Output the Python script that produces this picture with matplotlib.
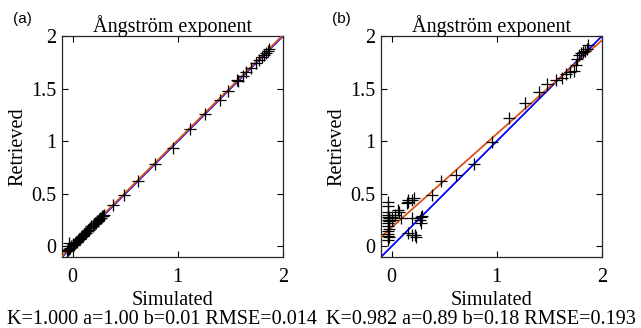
import numpy as np
import matplotlib.pyplot as plt

plt.rcParams['font.family'] = 'Liberation Serif'

# simulated vs retrieved Angstrom exponent, (a) noise-free, (b) with noise
sim_a = [-0.05, -0.04, -0.03, -0.03, -0.02, -0.01, 0.00, 0.01, 0.02, 0.03,
         0.04, 0.05, 0.06, 0.07, 0.08, 0.09, 0.10, 0.11, 0.12, 0.13,
         0.14, 0.15, 0.16, 0.17, 0.18, 0.19, 0.20, 0.21, 0.22, 0.23,
         0.24, 0.25, 0.26, 0.27, 0.28, 0.29, 0.30,
         0.38, 0.49, 0.62, 0.78, 0.95, 1.12, 1.26, 1.40, 1.48, 1.56,
         1.57, 1.62, 1.65, 1.70, 1.74, 1.77, 1.80, 1.82, 1.84, 1.86, 1.87]
ret_a = [-0.04, -0.03, 0.03, -0.02, -0.01, 0.00, 0.02, 0.01, 0.03, 0.04,
         0.04, 0.06, 0.07, 0.07, 0.09, 0.10, 0.10, 0.12, 0.13, 0.13,
         0.15, 0.16, 0.16, 0.18, 0.19, 0.19, 0.21, 0.22, 0.22, 0.24,
         0.24, 0.26, 0.27, 0.27, 0.29, 0.29, 0.30,
         0.39, 0.49, 0.62, 0.78, 0.94, 1.12, 1.26, 1.39, 1.48, 1.58,
         1.57, 1.62, 1.66, 1.70, 1.74, 1.77, 1.80, 1.82, 1.84, 1.86, 1.88]

sim_b = [-0.03, -0.03, -0.03, -0.03, -0.03, -0.03, -0.03, -0.03, -0.03, -0.03,
         -0.03, -0.03, -0.02, -0.02, -0.02, -0.02, 0.00, 0.00, 0.03, 0.06,
         0.07, 0.09, 0.15, 0.16, 0.16, 0.19, 0.19, 0.21, 0.19, 0.23, 0.16,
         0.22, 0.27, 0.28, 0.28, 0.29,
         0.38, 0.47, 0.61, 0.78, 0.95, 1.12, 1.27, 1.40, 1.48, 1.56,
         1.62, 1.66, 1.70, 1.73, 1.75, 1.76, 1.78, 1.80, 1.82, 1.84, 1.86, 1.87]
ret_b = [0.06, 0.10, 0.12, 0.15, 0.19, 0.22, 0.25, 0.28, 0.30, 0.33,
         0.38, 0.42, 0.09, 0.17, 0.24, 0.27, 0.25, 0.28, 0.30, 0.35,
         0.33, 0.27, 0.41, 0.44, 0.42, 0.44, 0.27, 0.46, 0.11, 0.09, 0.13,
         0.11, 0.25, 0.28, 0.22, 0.29,
         0.49, 0.62, 0.68, 0.78, 0.99, 1.22, 1.36, 1.47, 1.54, 1.58,
         1.60, 1.64, 1.66, 1.67, 1.72, 1.78, 1.82, 1.84, 1.85, 1.86, 1.88, 1.91]

# fit stats: correlation K, slope a, intercept b, RMSE
stats = [(1.000, 1.00, 0.01, 0.014), (0.982, 0.89, 0.18, 0.193)]
panels = ['(a)', '(b)']

fig = plt.figure(figsize=(6.41, 3.28), dpi=100)
lefts = [62 / 641, 381 / 641]
data = [(sim_a, ret_a), (sim_b, ret_b)]

for i in range(2):
    ax = fig.add_axes([lefts[i], 71 / 328, 221 / 641, 221 / 328])
    sim, ret = data[i]
    K, a, b, rmse = stats[i]
    lim = np.array([-0.1, 2.0])
    ax.plot(lim, lim, color='#0000FF', lw=1.3, zorder=2)
    ax.plot(lim, a * lim + b, color='#D95319', lw=1.3, zorder=3)
    ax.plot(sim, ret, '+', color='k', ms=9, mew=0.9, zorder=4)
    ax.set_xlim(-0.1, 2)
    ax.set_ylim(-0.1, 2)
    ax.set_xticks([0, 1, 2])
    ax.set_xticklabels(['0', '1', '2'])
    ax.set_yticks([0, 0.5, 1, 1.5, 2])
    ax.set_yticklabels(['0', '0.5', '1', '1.5', '2'])
    ax.tick_params(direction='in', top=True, right=True, length=4,
                   width=0.8, labelsize=14.5)
    ax.tick_params(axis='x', pad=8)
    ax.tick_params(axis='y', pad=4)
    for s in ax.spines.values():
        s.set_linewidth(0.9)
        s.set_color('#262626')
    ax.set_title('Ångström exponent', fontsize=14.5, pad=3)
    ax.set_xlabel('Simulated', fontsize=14.5, labelpad=3)
    ax.set_ylabel('Retrieved', fontsize=14.5, labelpad=3)
    fig.text(lefts[i] - 49 / 641, 1 - 19 / 328, panels[i],
             family='Liberation Sans', fontsize=11, va='center')
    fig.text(lefts[i] + 100 / 641, 1 - 320 / 328,
             'K=%.3f a=%.2f b=%.2f RMSE=%.3f' % (K, a, b, rmse),
             fontsize=14.5, ha='center', va='center')

fig.savefig('out.png', dpi=100)
